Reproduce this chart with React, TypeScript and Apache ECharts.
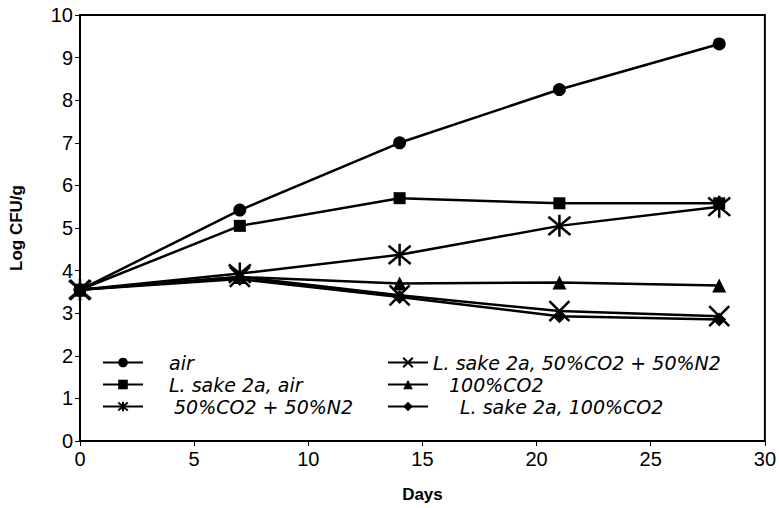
import React, { useEffect, useRef } from "react";
import * as echarts from "echarts";

const days = [0, 7, 14, 21, 28];
const airVals = [3.55, 5.42, 7.0, 8.25, 9.32];
const lsAirVals = [3.55, 5.05, 5.7, 5.58, 5.58];
const co2n2Vals = [3.55, 3.93, 4.37, 5.05, 5.5];
const lsCo2n2Vals = [3.55, 3.85, 3.42, 3.05, 2.93];
const co2Vals = [3.55, 3.85, 3.7, 3.72, 3.65];
const lsCo2Vals = [3.55, 3.8, 3.38, 2.93, 2.85];

const xTicks = [0, 5, 10, 15, 20, 25, 30];
const yTicks = [0, 1, 2, 3, 4, 5, 6, 7, 8, 9, 10];

const FONT = "Liberation Sans, Arial, sans-serif";
const LFONT = "DejaVu Sans, sans-serif";
const ASTER = "path://M0,0L10,10M10,0L0,10M5,-1L5,11";
const CROSS = "path://M0,0L10,10M10,0L0,10";

const seriesDefs = [
  { name: "air", vals: airVals, symbol: "circle", size: 13, stroke: false },
  { name: "L. sake 2a, air", vals: lsAirVals, symbol: "rect", size: 12, stroke: false },
  { name: "50%CO2 + 50%N2", vals: co2n2Vals, symbol: ASTER, size: 22, stroke: true },
  { name: "L. sake 2a, 50%CO2 + 50%N2", vals: lsCo2n2Vals, symbol: CROSS, size: 20, stroke: true },
  { name: "100%CO2", vals: co2Vals, symbol: "triangle", size: 14, stroke: false },
  { name: "L. sake 2a, 100%CO2", vals: lsCo2Vals, symbol: "diamond", size: 14, stroke: false },
];

const legendPos = [
  { left: 97, top: 348, pad: 21 },
  { left: 97, top: 370, pad: 21 },
  { left: 97, top: 392, pad: 26 },
  { left: 382, top: 348, pad: 0 },
  { left: 382, top: 370, pad: 16 },
  { left: 382, top: 392, pad: 27 },
];

export default function App() {
  const ref = useRef<HTMLDivElement>(null);
  useEffect(() => {
    if (!ref.current) return;
    const chart = echarts.init(ref.current, undefined, { renderer: "svg" });
    chart.setOption({
      animation: false,
      backgroundColor: "#fff",
      grid: {
        left: 79,
        right: 10,
        top: 15,
        bottom: 65,
        show: true,
        borderColor: "#000",
        borderWidth: 2,
      },
      legend: seriesDefs.map((s, i) => ({
        data: [s.name],
        left: legendPos[i].left,
        top: legendPos[i].top,
        orient: "vertical",
        itemWidth: 40,
        itemHeight: 12,
        selectedMode: false,
        textStyle: {
          fontFamily: LFONT,
          fontSize: 19,
          fontStyle: "italic",
          color: "#000",
          padding: [0, 0, 0, legendPos[i].pad],
        },
      })),
      xAxis: {
        type: "value",
        min: 0,
        max: 30,
        interval: 5,
        name: "Days",
        nameLocation: "middle",
        nameGap: 45,
        nameTextStyle: { fontFamily: FONT, fontSize: 17, fontWeight: "bold", color: "#000" },
        axisLine: { lineStyle: { color: "#000", width: 2 } },
        axisTick: { show: true, length: 5, lineStyle: { color: "#000", width: 1 } },
        axisLabel: {
          fontFamily: FONT,
          fontSize: 20,
          color: "#000",
          margin: 8,
          formatter: (v: number) => (xTicks.includes(v) ? String(v) : ""),
        },
        splitLine: { show: false },
      },
      yAxis: {
        type: "value",
        min: 0,
        max: 10,
        interval: 1,
        name: "Log CFU/g",
        nameLocation: "middle",
        nameGap: 55,
        nameTextStyle: { fontFamily: FONT, fontSize: 17, fontWeight: "bold", color: "#000" },
        axisLine: { show: true, lineStyle: { color: "#000", width: 2 } },
        axisTick: { show: true, length: 5, lineStyle: { color: "#000", width: 1 } },
        axisLabel: {
          fontFamily: FONT,
          fontSize: 20,
          color: "#000",
          margin: 7,
          formatter: (v: number) => (yTicks.includes(v) ? String(v) : ""),
        },
        splitLine: { show: false },
      },
      series: seriesDefs.map((s) => ({
        name: s.name,
        type: "line",
        data: days.map((d, i) => [d, s.vals[i]]),
        symbol: s.symbol,
        symbolSize: s.size,
        showSymbol: true,
        lineStyle: { color: "#000", width: 2.5 },
        itemStyle: s.stroke
          ? { color: "#000", borderColor: "#000", borderWidth: 2.5 }
          : { color: "#000", borderColor: "#000", borderWidth: 0 },
      })),
    });
    return () => chart.dispose();
  }, []);
  return <div ref={ref} style={{ width: 779, height: 508, position: "absolute", left: 0, top: 0 }} />;
}
